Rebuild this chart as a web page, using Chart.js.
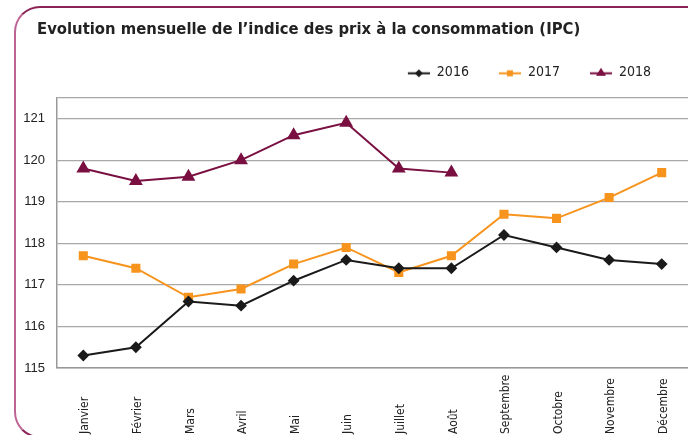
<!DOCTYPE html>
<html>
<head>
<meta charset="utf-8">
<script src="https://cdn.jsdelivr.net/npm/chart.js@4"></script>
<style>
  body { margin: 0; background: #fff; }
  #wrap { position: relative; width: 688px; height: 435px; overflow: hidden; }
  #frame {
    position: absolute; left: 14px; top: 6px; width: 720px; height: 432px;
    border: 2px solid #8a2457; border-left-color: #bd6494;
    border-radius: 26px; box-sizing: border-box;
  }
  canvas { position: absolute; left: 0; top: 0; }
</style>
</head>
<body>
<div id="wrap">
  <div id="frame"></div>
  <canvas id="chart" width="688" height="435"></canvas>
</div>
<script>
const months = ['Janvier', 'Février', 'Mars', 'Avril', 'Mai', 'Juin', 'Juillet', 'Août', 'Septembre', 'Octobre', 'Novembre', 'Décembre'];
const ipc2016 = [115.3, 115.5, 116.6, 116.5, 117.1, 117.6, 117.4, 117.4, 118.2, 117.9, 117.6, 117.5];
const ipc2017 = [117.7, 117.4, 116.7, 116.9, 117.5, 117.9, 117.3, 117.7, 118.7, 118.6, 119.1, 119.7];
const ipc2018 = [119.8, 119.5, 119.6, 120.0, 120.6, 120.9, 119.8, 119.7, null, null, null, null];
const yMin = 115;
const yMax = 121.5;

const condensed = "'Liberation Sans Narrow', 'DejaVu Sans Condensed', 'Liberation Sans', sans-serif";

// line + marker icons for the legend (transparent gap on the left)
function legendIcon(color, style) {
  const c = document.createElement('canvas');
  c.width = 32; c.height = 14;
  const ctx = c.getContext('2d');
  ctx.strokeStyle = color;
  ctx.fillStyle = color;
  ctx.lineWidth = 2;
  ctx.beginPath();
  ctx.moveTo(10, 7.5); ctx.lineTo(32, 7.5);
  ctx.stroke();
  ctx.beginPath();
  if (style === 'diamond') {
    ctx.moveTo(21, 3.5); ctx.lineTo(25, 7.5); ctx.lineTo(21, 11.5); ctx.lineTo(17, 7.5);
  } else if (style === 'square') {
    ctx.rect(18, 4.5, 6, 6);
  } else {
    ctx.moveTo(21, 2); ctx.lineTo(26, 10); ctx.lineTo(16, 10);
  }
  ctx.closePath();
  ctx.fill();
  return c;
}

const icons = [
  legendIcon('#1a1a1a', 'diamond'),
  legendIcon('#f7941d', 'square'),
  legendIcon('#7a0f41', 'triangle')
];

// month names written upward from the bottom edge
const monthLabels = {
  id: 'monthLabels',
  afterLayout(chart) {
    // title starts inside the frame, legend pulled in from the right edge
    chart.titleBlock.left = 37;
    chart.legend.right -= 17;
  },
  afterDraw(chart) {
    const ctx = chart.ctx;
    const xs = chart.scales.x;
    ctx.save();
    ctx.font = '12px ' + condensed;
    ctx.fillStyle = '#222';
    ctx.textAlign = 'left';
    ctx.textBaseline = 'middle';
    months.forEach((m, i) => {
      const x = xs.getPixelForValue(i) + 2;
      ctx.save();
      ctx.translate(x, 434);
      ctx.rotate(-Math.PI / 2);
      ctx.fillText(m, 0, 0);
      ctx.restore();
    });
    ctx.restore();
  }
};

const data = {
  labels: months,
  datasets: [
    {
      label: '2016',
      data: ipc2016,
      borderColor: '#1a1a1a',
      backgroundColor: '#1a1a1a',
      borderWidth: 2,
      pointStyle: 'rectRot',
      pointRadius: 4.5,
    },
    {
      label: '2017',
      data: ipc2017,
      borderColor: '#f7941d',
      backgroundColor: '#f7941d',
      borderWidth: 2,
      pointStyle: 'rect',
      pointRadius: 5,
    },
    {
      label: '2018',
      data: ipc2018,
      borderColor: '#7a0f41',
      backgroundColor: '#7a0f41',
      borderWidth: 2,
      pointStyle: 'triangle',
      pointRadius: 6,
    },
  ],
};

const config = {
  type: 'line',
  data: data,
  plugins: [monthLabels],
  options: {
    responsive: false,
    animation: false,
    layout: { autoPadding: false, padding: 0 },
    scales: {
      x: {
        offset: true,
        grid: { display: false },
        border: { display: true, color: '#999', width: 1.5 },
        ticks: { display: false },
        afterFit(scale) { scale.height = 67; },
      },
      xTop: {
        type: 'category',
        axis: 'x',
        position: 'top',
        grid: { display: false },
        border: { display: false },
        ticks: { display: false },
        afterFit(scale) { scale.height = 8; },
      },
      y: {
        min: yMin,
        max: yMax,
        border: { display: true, color: '#999', width: 1.5 },
        grid: {
          color: '#a8a8a8',
          lineWidth: 1.2,
          drawTicks: false,
        },
        ticks: {
          stepSize: 1,
          padding: 12,
          color: '#222',
          font: { size: 13, family: "'Liberation Sans', Arial, sans-serif" },
          callback: v => Number.isInteger(v) ? v : '',
        },
        afterFit(scale) { scale.width = 57; },
      },
    },
    plugins: {
      title: {
        display: true,
        text: 'Evolution mensuelle de l’indice des prix à la consommation (IPC)',
        align: 'start',
        color: '#222',
        font: { size: 16.5, weight: 'bold', family: condensed },
        padding: { top: 20, bottom: 6 },
      },
      legend: {
        position: 'top',
        align: 'end',
        labels: {
          usePointStyle: true,
          pointStyleWidth: 32,
          padding: 20,
          color: '#222',
          font: { size: 14, family: condensed },
          generateLabels(chart) {
            return chart.data.datasets.map((ds, i) => ({
              text: ds.label,
              fontColor: '#222',
              pointStyle: icons[i],
              datasetIndex: i,
              lineWidth: 0,
            }));
          },
        },
      },
      tooltip: { enabled: false },
    },
  },
};

new Chart(document.getElementById('chart'), config);
</script>
</body>
</html>
